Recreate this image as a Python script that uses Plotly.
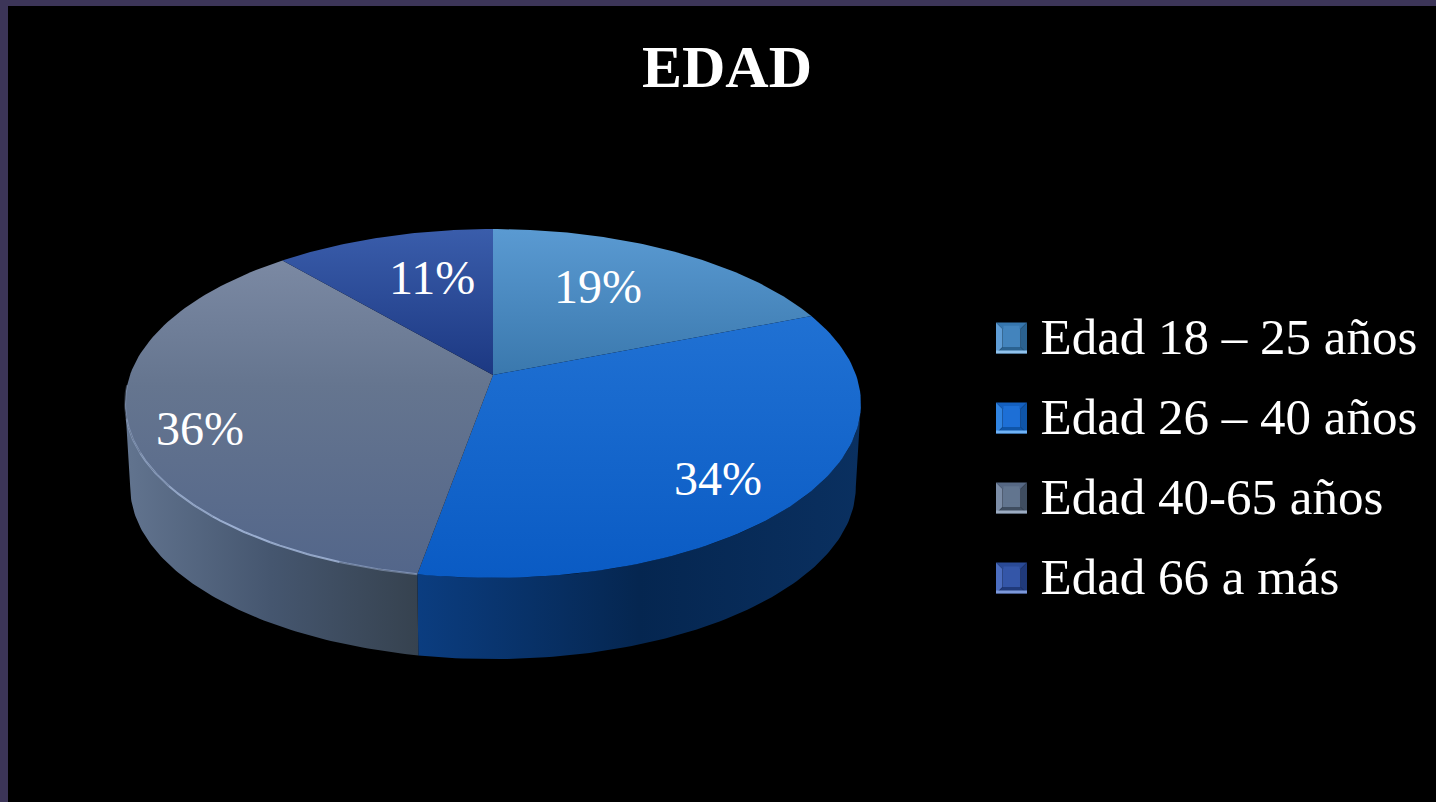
import math
import plotly.graph_objects as go

# ---- data ----
categories = ["Edad 18 – 25 años", "Edad 26 – 40 años", "Edad 40-65 años", "Edad 66 a más"]
values = [19.0, 33.8, 35.9, 11.3]
title_text = "EDAD"

# ---- styling ----
FONT = "Liberation Serif"
top_grad = [
    [[0, "#5a9ad2"], [1, "#3a78ad"]],
    [[0, "#2071d3"], [1, "#0a5bc4"]],
    [[0, "#7b89a3"], [0.4, "#65758f"], [1, "#53668a"]],
    [[0, "#3a5dab"], [1, "#1c3882"]],
]
wall_grad = {1: ("#0b3d80", "#052650", "#0a3060"), 2: ("#62748f", "#45566f", "#36424f")}
bevels = [
    dict(face="#4384bd", left="#5f9dd6", top="#3676ae", right="#2b6290", strip="#90c2ec"),
    dict(face="#1d6fd6", left="#3084e2", top="#1460c0", right="#0f55a8", strip="#6fb2f6"),
    dict(face="#62758f", left="#7c8da7", top="#566884", right="#3f4d60", strip="#9cacc2"),
    dict(face="#3456a8", left="#4b6dc0", top="#2a4a96", right="#203a7a", strip="#7c98da"),
]
labels_xy = [(598, 286), (718, 478), (200, 428), (432, 277)]

W, H = 1436, 802
CX, APEX_Y, AY, BX, PERSP = 493, 375, 169.8, 363, 0.1633
WALL_SCALE, WALL_CY, TOP_CY = 0.986, 487, 403.4
LEFT_SIL, RIGHT_SIL = 260.6, 99.4
SW_X, SW_Y0, SW_STEP, SW_HALF = 1011.5, 338, 80, 15.5


def top_pt(deg):
    t = math.radians(deg)
    u, v = math.sin(t), math.cos(t)
    d = 1 + PERSP * v
    return CX + BX * u / d, APEX_Y - AY * v / d


def bot_pt(deg):
    x, y = top_pt(deg)
    return CX + WALL_SCALE * (x - CX), WALL_CY + WALL_SCALE * (y - TOP_CY)


def arc(fn, a, b, n=90):
    pts = [fn(a + (b - a) * i / n) for i in range(n + 1)]
    return [p[0] for p in pts], [p[1] for p in pts]


fig = go.Figure()
edges = [0]
for v in values:
    edges.append(edges[-1] + v)
angles = [e / edges[-1] * 360 for e in edges]

# side walls (only the visible front part)
wall_spans = {1: (RIGHT_SIL, angles[2]), 2: (angles[2], LEFT_SIL)}
for i, (a, b) in wall_spans.items():
    tx, ty = arc(top_pt, a, b)
    bx, by = arc(bot_pt, b, a)
    xs = tx + bx + [tx[0]]
    ys = ty + by + [ty[0]]
    c = wall_grad[i]
    fig.add_trace(go.Scatter(
        x=xs, y=ys, mode="lines", line=dict(width=0), fill="toself",
        fillgradient=dict(type="horizontal", start=min(xs), stop=max(xs),
                          colorscale=[[0, c[0]], [0.5, c[1]], [1, c[2]]]),
        hoverinfo="skip", showlegend=False))

# top faces
for i in range(len(values)):
    ax, ay = arc(top_pt, angles[i], angles[i + 1])
    xs = [CX] + ax + [CX]
    ys = [APEX_Y] + ay + [APEX_Y]
    fig.add_trace(go.Scatter(
        x=xs, y=ys, mode="lines", line=dict(width=0), fill="toself",
        fillgradient=dict(type="vertical", start=min(ys), stop=max(ys),
                          colorscale=top_grad[i]),
        hoverinfo="skip", showlegend=False))

# rim highlight along the front of the grey slice
n_seg = 7
for k in range(n_seg):
    a = angles[2] + (LEFT_SIL + 6 - angles[2]) * k / n_seg
    b = angles[2] + (LEFT_SIL + 6 - angles[2]) * (k + 1) / n_seg
    alpha = [0.45, 0.75, 0.8, 0.7, 0.55, 0.4, 0.25][k]
    xs, ys = arc(top_pt, a, b, 20)
    fig.add_trace(go.Scatter(x=xs, y=ys, mode="lines",
                             line=dict(width=2, color=f"rgba(175,195,230,{alpha})"),
                             hoverinfo="skip", showlegend=False))

# legend swatch bevels (behind the legend's own face square)
for i, b in enumerate(bevels):
    cx, cy = SW_X, SW_Y0 + i * SW_STEP
    h, f = SW_HALF, 9
    polys = [
        (b["top"], [(-h, -h), (h, -h), (f, -f), (-f, -f)]),
        (b["left"], [(-h, -h), (-f, -f), (-f, f), (-h, h)]),
        (b["right"], [(h, -h), (h, h), (f, f), (f, -f)]),
        (b["right"], [(-h, h), (-f, f), (f, f), (h, h)]),
        (b["strip"], [(-h, h - 3), (h, h - 3), (h, h), (-h, h)]),
        (b["face"], [(-f, -f), (f, -f), (f, f), (-f, f)]),
    ]
    for col, pts in polys:
        xs = [cx + p[0] for p in pts] + [cx + pts[0][0]]
        ys = [cy + p[1] for p in pts] + [cy + pts[0][1]]
        fig.add_trace(go.Scatter(x=xs, y=ys, mode="lines", line=dict(width=0), fill="toself",
                                 fillcolor=col, hoverinfo="skip", showlegend=False))

# legend entries
for i, name in enumerate(categories):
    fig.add_trace(go.Scatter(x=[None], y=[None], mode="markers", name=name, legendgroup=name,
                             marker=dict(symbol="square", size=16, color=bevels[i]["face"])))

annotations = [
    dict(x=p[0], y=p[1], text=f"{round(v)}%", showarrow=False, xanchor="center", yanchor="middle",
         font=dict(family=FONT, size=48, color="white"))
    for v, p in zip(values, labels_xy)
]

fig.update_layout(
    width=W, height=H, autosize=False,
    margin=dict(l=8, r=0, t=6, b=0),
    paper_bgcolor="#3c3558", plot_bgcolor="#000000",
    title=dict(text=f"<b>{title_text}</b>", x=727 / W, xanchor="center", xref="container",
               y=1 - 66 / H, yanchor="middle", yref="container",
               font=dict(family=FONT, size=60, color="white")),
    xaxis=dict(range=[8, W], visible=False, fixedrange=True),
    yaxis=dict(range=[H, 6], visible=False, fixedrange=True),
    legend=dict(x=(SW_X - 29 - 8) / (W - 8), xanchor="left", y=1 - (294 - 6) / (H - 6), yanchor="top",
                bgcolor="rgba(0,0,0,0)", font=dict(family=FONT, size=51, color="white"),
                itemwidth=48, tracegroupgap=11, traceorder="grouped", itemclick=False, itemdoubleclick=False),
    annotations=annotations,
)
fig.write_html("out.html", config=dict(displayModeBar=False),
               post_script="document.body.style.margin='0';document.body.style.background='#000';document.body.style.overflow='hidden';")
